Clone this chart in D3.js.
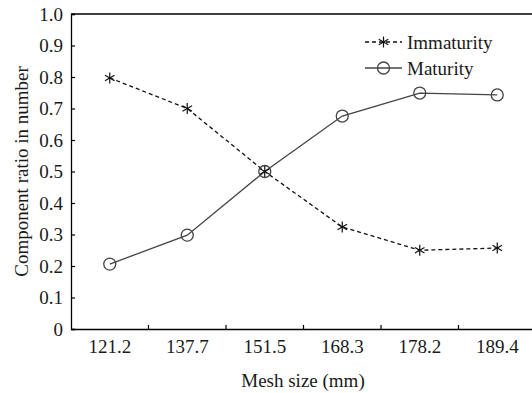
<!DOCTYPE html>
<html><head><meta charset="utf-8">
<script src="https://cdn.jsdelivr.net/npm/d3@7"></script>
<style>body{margin:0;background:#fff}svg{display:block}</style>
</head><body>
<svg id="c" width="532" height="393"></svg>
<script>
const categories = ["121.2","137.7","151.5","168.3","178.2","189.4"];
const immaturity = [0.797,0.700,0.500,0.324,0.250,0.257];
const maturity = [0.206,0.298,0.500,0.676,0.749,0.743];
const yTicks = [0,0.1,0.2,0.3,0.4,0.5,0.6,0.7,0.8,0.9,1.0];
const seriesNames = ["Immaturity","Maturity"];

const svg = d3.select("#c");
const L = 71, T = 14, B = 329, bw = 77.5;
const x = d3.scaleBand().domain(categories).range([L, L + bw*categories.length]);
const y = d3.scaleLinear().domain([0,1]).range([B, T]);

function st(sel){
  return sel.style("font-family",'"Liberation Serif"').style("font-size","19px").attr("fill","#1a1a1a");
}

// axes
const gx = svg.append("g").attr("transform",`translate(0,${B})`)
  .call(d3.axisBottom(x).tickSize(0).tickPadding(11));
gx.select(".domain").attr("stroke","#000").attr("stroke-width",1.3);
st(gx.selectAll("text"));
// boundary ticks between bands
const edges = categories.slice(1).map(c => x(c));
svg.append("g").selectAll("line").data(edges).join("line")
  .attr("x1",d=>d).attr("x2",d=>d).attr("y1",B).attr("y2",B-4)
  .attr("stroke","#000").attr("stroke-width",1.2);

const gy = svg.append("g").attr("transform",`translate(${L},0)`)
  .call(d3.axisLeft(y).tickValues(yTicks).tickSize(-4).tickPadding(8)
    .tickFormat(d => d===0 ? "0" : d3.format(".1f")(d)));
gy.select(".domain").attr("stroke","#000").attr("stroke-width",1.3);
gy.selectAll(".tick line").attr("stroke","#000").attr("stroke-width",1.2);
st(gy.selectAll("text"));

// top border
svg.append("line").attr("x1",L).attr("x2",L+bw*categories.length).attr("y1",T).attr("y2",T)
  .attr("stroke","#000").attr("stroke-width",1.3);

// axis titles
st(svg.append("text").attr("x",303).attr("y",387).attr("text-anchor","middle").text("Mesh size (mm)"));
st(svg.append("text").attr("transform",`translate(28,${(T+B)/2}) rotate(-90)`).attr("text-anchor","middle")
  .text("Component ratio in number"));

const cx = c => x(c) + x.bandwidth()/2;
const line = d3.line().x((d,i)=>cx(categories[i])).y(d=>y(d));

// maturity
svg.append("path").datum(maturity).attr("d",line).attr("fill","none")
  .attr("stroke","#444").attr("stroke-width",1.3);
// immaturity
svg.append("path").datum(immaturity).attr("d",line).attr("fill","none")
  .attr("stroke","#111").attr("stroke-width",1.3).attr("stroke-dasharray","4,3");

function star(g, px, py, r){
  [90,30,150].forEach(a=>{
    const rad = a*Math.PI/180;
    g.append("line").attr("x1",px-r*Math.cos(rad)).attr("y1",py-r*Math.sin(rad))
      .attr("x2",px+r*Math.cos(rad)).attr("y2",py+r*Math.sin(rad))
      .attr("stroke","#111").attr("stroke-width",1.2);
  });
}
function circ(g, px, py){
  g.append("circle").attr("cx",px).attr("cy",py).attr("r",6)
    .attr("fill","none").attr("stroke","#444").attr("stroke-width",1.3);
}
const gm = svg.append("g");
maturity.forEach((v,i)=>circ(gm, cx(categories[i]), y(v)));
const gi = svg.append("g");
immaturity.forEach((v,i)=>star(gi, cx(categories[i]), y(v), 5.5));

// legend
const lg = svg.append("g");
const ly = [42, 68];
lg.append("line").attr("x1",365).attr("x2",402).attr("y1",ly[0]).attr("y2",ly[0])
  .attr("stroke","#111").attr("stroke-width",1.3).attr("stroke-dasharray","4,3");
star(lg, 383.5, ly[0], 5.5);
lg.append("line").attr("x1",365).attr("x2",402).attr("y1",ly[1]).attr("y2",ly[1])
  .attr("stroke","#444").attr("stroke-width",1.3);
circ(lg, 383.5, ly[1]);
seriesNames.forEach((n,i)=>{
  st(lg.append("text").attr("x",407).attr("y",ly[i]+6.5).text(n));
});
</script>
</body></html>
